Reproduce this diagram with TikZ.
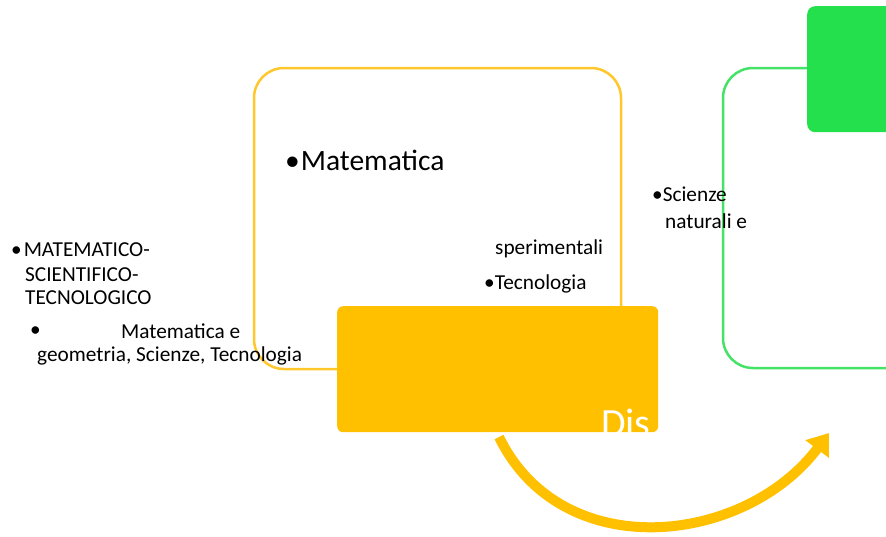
\documentclass[tikz,border=0pt]{standalone}
\usepackage{fontspec}
\setmainfont{Carlito}
\usetikzlibrary{arrows.meta}
\definecolor{ylw}{HTML}{FFC000}
\definecolor{ylwline}{HTML}{FFC72C}
\definecolor{grn}{HTML}{24E04C}
\definecolor{grnline}{HTML}{44E266}
\begin{document}
\begin{tikzpicture}[x=1pt,y=-1pt,
  txt/.style={inner sep=0pt, anchor=base west, font=\fontsize{21.3}{25}\selectfont},
  bigtxt/.style={inner sep=0pt, anchor=base west, font=\fontsize{29.5}{35}\selectfont},
  outline/.style={line width=2.5pt, rounded corners=30pt},
  arrowstyle/.style={ylw, line width=10pt, -{Triangle[length=20pt,width=28pt]}}]
\useasboundingbox (0,0) rectangle (886,536);
\clip (0,0) rectangle (886,536);
% outlines
\draw[outline, ylwline] (254,68) rectangle (621,369);
\draw[outline, grnline] (723,68) rectangle (930,368);
% filled boxes
\node[fill=grn, rounded corners=8pt, inner sep=0pt, minimum width=120pt, minimum height=126pt, anchor=north west] (gbox) at (807,6) {};
\node[fill=ylw, rounded corners=6pt, inner sep=0pt, minimum width=321pt, minimum height=126pt, anchor=north west] (ybox) at (337,306) {};
\begin{scope}
  \clip[rounded corners=6pt] (337,306) rectangle (658,432);
  \node[inner sep=0pt, anchor=base west, text=white, font=\fontsize{40}{46}\selectfont] (dis) at (601,436) {Dis};
\end{scope}
% arrow
\coordinate (as) at (499,437);
\coordinate (ae) at (829,433);
\draw[arrowstyle] (as) .. controls (562,566) and (745,545) .. (ae);
% texts
\node[bigtxt] (mat) at (285,170) {•\kern1ptMatematica};
\node[txt] (sper) at (495,254) {sperimentali};
\node[txt] (tec) at (484,289) {•\kern0ptTecnologia};
\node[txt] (sci1) at (652,201) {•\kern0ptScienze};
\node[txt] (sci2) at (665,228) {naturali e};
\node[txt] (mst1) at (11,256) {•\kern2ptMATEMATICO-};
\node[txt] (mst2) at (25,281) {SCIENTIFICO-};
\node[txt] (mst3) at (25,304) {TECNOLOGICO};
\node[txt] (bul) at (30,336) {•};
\node[txt] (mg1) at (121,338) {Matematica e};
\node[txt] (mg2) at (37,361) {geometria, Scienze, Tecnologia};
\end{tikzpicture}
\end{document}
